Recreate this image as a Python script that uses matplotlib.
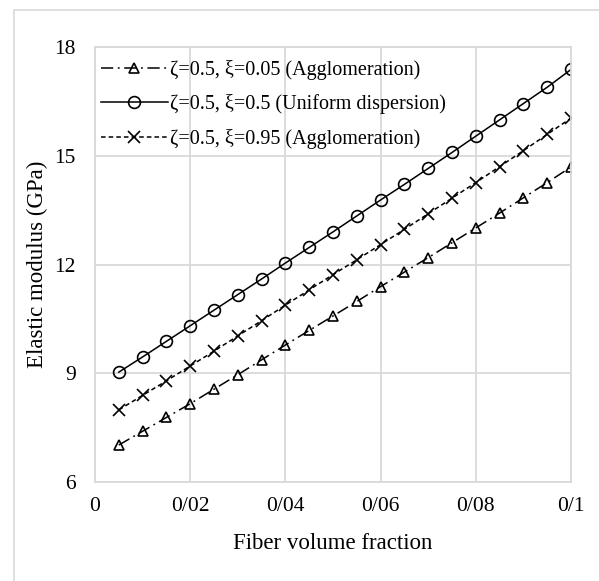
import matplotlib
matplotlib.use("Agg")
import matplotlib.pyplot as plt
from matplotlib.patches import Rectangle

plt.rcParams['font.family'] = ['Liberation Serif', 'DejaVu Serif']

fiber_fraction = [0.005, 0.010, 0.015, 0.020, 0.025, 0.030, 0.035, 0.040, 0.045, 0.050,
                  0.055, 0.060, 0.065, 0.070, 0.075, 0.080, 0.085, 0.090, 0.095, 0.100]
agglom_005 = [7.02, 7.40, 7.78, 8.16, 8.56, 8.96, 9.37, 9.78, 10.18, 10.58,
              10.98, 11.39, 11.79, 12.19, 12.60, 13.01, 13.42, 13.84, 14.26, 14.69]
uniform_05 = [9.03, 9.45, 9.88, 10.31, 10.74, 11.17, 11.60, 12.04, 12.47, 12.90,
              13.34, 13.78, 14.21, 14.65, 15.09, 15.54, 15.99, 16.44, 16.89, 17.38]
agglom_095 = [7.99, 8.39, 8.79, 9.20, 9.61, 10.03, 10.45, 10.88, 11.30, 11.72,
              12.13, 12.55, 12.97, 13.40, 13.83, 14.26, 14.70, 15.14, 15.59, 16.04]
labels = ["ζ=0.5, ξ=0.05 (Agglomeration)",
          "ζ=0.5, ξ=0.5 (Uniform dispersion)",
          "ζ=0.5, ξ=0.95 (Agglomeration)"]
x_ticks = [0, 0.02, 0.04, 0.06, 0.08, 0.1]
x_tick_labels = ["0", "0/02", "0/04", "0/06", "0/08", "0/1"]
y_ticks = [6, 9, 12, 15, 18]

W, H = 599, 581
fig = plt.figure(figsize=(W / 100, H / 100), dpi=100)
ax = fig.add_axes([95 / W, 1 - 482 / H, (571 - 95) / W, (482 - 47) / H])

# outer chart-area border (left and top visible)
fig.patches.append(Rectangle((14 / W, -0.1), 1.2, 1 - 10 / H + 0.1,
                             transform=fig.transFigure, fill=False,
                             edgecolor='#d9d9d9', linewidth=1.2))

common = dict(color='black', linewidth=1.1, markerfacecolor='none',
              markeredgecolor='black', markeredgewidth=1.2)
ax.plot(fiber_fraction, agglom_005, marker='^', markersize=7.5,
        linestyle=(0, (8, 3, 1.2, 3)), label=labels[0], **common)
ax.plot(fiber_fraction, uniform_05, marker='o', markersize=8.5,
        linestyle='-', label=labels[1], **common)
ax.plot(fiber_fraction, agglom_095, marker='x', markersize=8,
        linestyle=(0, (3, 2)), label=labels[2], **common)

ax.set_xlim(0, 0.1)
ax.set_ylim(6, 18)
ax.set_xticks(x_ticks)
ax.set_xticklabels(x_tick_labels)
ax.set_yticks(y_ticks)
ax.grid(True, color='#d9d9d9', linewidth=1.3)
ax.set_axisbelow(True)
for s in ax.spines.values():
    s.set_color('#d9d9d9')
    s.set_linewidth(1.3)
ax.tick_params(length=0, labelsize=15.5, pad=11)
ax.tick_params(axis='y', pad=14)

ax.set_xlabel("Fiber volume fraction", fontsize=16.5, labelpad=12)
ax.set_ylabel("Elastic modulus (GPa)", fontsize=16.5, labelpad=4)

ax.legend(loc='upper left', bbox_to_anchor=(0.0, 0.985), frameon=False,
          fontsize=14.5, handlelength=3.3, handletextpad=0.1,
          labelspacing=0.72, borderaxespad=0.1, borderpad=0.2)

fig.savefig("out.png", dpi=100)
